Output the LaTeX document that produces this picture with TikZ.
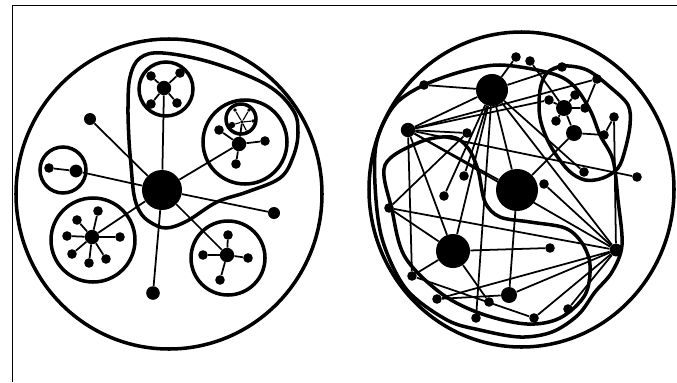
\documentclass[tikz,border=0pt]{standalone}
\usepackage{tikz}
\tikzset{
  bigdot/.style  ={circle,fill=black,inner sep=0pt,minimum size=10mm},
  hubdot/.style  ={circle,fill=black,inner sep=0pt,minimum size=3.6mm},
  leafdot/.style ={circle,fill=black,inner sep=0pt,minimum size=2.4mm},
  tinydot/.style ={circle,fill=black,inner sep=0pt,minimum size=0.9mm},
  rim/.style     ={line width=2.5pt},
  blob/.style    ={line width=2.5pt,line join=round},
  spoke/.style   ={line width=1.25pt},
}

\begin{document}
\begin{tikzpicture}[x=0.025cm,y=-0.025cm]
\useasboundingbox (0,0) rectangle (677,382);

% frame (top and left edge only)
\draw[line width=0.6pt] (12,382) -- (12,5) -- (677,5);

%% ---------------- left picture: tree of clusters ----------------
\draw[rim] (169,194) ellipse [x radius=153,y radius=155];
\draw[rim] (166,89) circle [radius=27];
\draw[rim] (245,142) circle [radius=42];
\draw[rim] (241,119) circle [radius=15];
\draw[rim] (63,170) circle [radius=23];
\draw[rim] (93,240) circle [radius=42];
\draw[rim] (228,258) circle [radius=37];

% enclosing blob
\draw[blob] plot[smooth cycle,tension=0.6] coordinates {
  (128,107) (130,77) (140,58) (163,53) (213,63) (267,85) (293,110)
  (298,133) (293,157) (280,178) (247,192) (217,202) (187,221)
  (166,228) (150,222) (140,212) (134,195) (131,165) (129,140)};

\node[bigdot] (c0) at (162,190) {};

% top cluster
\node[hubdot] (t0) at (164,88) {};
\foreach \p [count=\i] in {(151,76),(180,73),(151,104),(177,103)}
  \node[leafdot] (t\i) at \p {};
\foreach \i in {1,...,4} \draw[spoke] (t0) -- (t\i);

% upper right cluster with its small sub-cluster
\node[hubdot] (r0) at (239,144) {};
\foreach \p [count=\i] in {(219,130),(265,141),(236,164)}
  \node[leafdot] (r\i) at \p {};
\foreach \i in {1,...,3} \draw[spoke] (r0) -- (r\i);
\node[tinydot] (s0) at (242,122) {};
\foreach \p [count=\i] in {(235,110),(249,110),(253,121),(247,132)}
  \node[tinydot] (s\i) at \p {};
\node[circle,fill=black,inner sep=0pt,minimum size=1.6mm] (s5) at (232,125) {};
\foreach \i in {1,...,5} \draw[line width=0.8pt] (s0) -- (s\i);
\draw[spoke] (s0) -- (r0);

% lone nodes and pair
\node[leafdot,minimum size=3mm] (l1) at (90,119) {};
\node[leafdot,minimum size=3mm] (l2) at (274,213) {};
\node[leafdot,minimum size=3.4mm] (l3) at (153,293) {};
\node[leafdot] (p1) at (49,168) {};
\node[leafdot,minimum size=3.2mm] (p2) at (76,171) {};
\draw[spoke] (p1) -- (p2);

% lower left cluster
\node[hubdot] (b0) at (92,237) {};
\foreach \p [count=\i] in {(77,220),(98,211),(67,236),(120,237),(72,254),(89,263),(106,259)}
  \node[leafdot] (b\i) at \p {};
\foreach \i in {1,...,7} \draw[spoke] (b0) -- (b\i);

% lower right cluster
\node[hubdot] (d0) at (227,255) {};
\foreach \p [count=\i] in {(228,235),(203,255),(248,258),(220,280)}
  \node[leafdot] (d\i) at \p {};
\foreach \i in {1,...,4} \draw[spoke] (d0) -- (d\i);

\foreach \n in {t0,r0,l1,p2,b0,d0,l2,l3} \draw[spoke] (c0) -- (\n);

%% ---------------- right picture: dense network ----------------
\draw[rim] (521.5,189.5) ellipse [x radius=152.5,y radius=157.5];

% outer blob
\draw[blob] plot[smooth cycle,tension=0.55] coordinates {
  (376,145) (393,107) (420,87) (460,72) (500,65) (550,73) (573,85)
  (590,110) (600,135) (613,160) (618,200) (622,245) (612,272)
  (595,292) (578,315) (552,332) (520,337) (480,330) (447,320)
  (407,290) (384,245) (376,200)};
% lower blob
\draw[blob] plot[smooth cycle,tension=0.55] coordinates {
  (385,165) (420,142) (452,137) (468,148) (478,170) (485,202)
  (500,217) (530,222) (565,228) (582,243) (590,265) (585,295)
  (560,318) (527,324) (482,314) (442,294) (405,257) (392,210)};
% upper right blob
\draw[blob] plot[smooth cycle,tension=0.55] coordinates {
  (540,90) (547,73) (563,66) (587,70) (610,87) (628,105) (630,125)
  (625,150) (618,168) (603,178) (585,180) (568,170) (550,145) (540,118)};

\node[bigdot,minimum size=8mm] (ba) at (492,90) {};
\node[bigdot,minimum size=10.5mm] (bb) at (517,190) {};
\node[bigdot,minimum size=8.5mm] (bc) at (453,251) {};
\node[hubdot] (md) at (408,130) {};
\node[hubdot,minimum size=3.2mm] (me) at (616,250) {};
\node[hubdot,minimum size=4mm] (mf) at (509,295) {};
\node[hubdot,minimum size=4mm] (mg) at (564,108) {};
\node[hubdot,minimum size=4mm] (mh) at (574,133) {};
\foreach \p [count=\i] in {(516,57),(530,61),(562,67),(597,79),(424,85),
    (549,100),(575,95),(585,108),(556,121),(614,117),(604,135),(467,133),
    (584,172),(637,177),(464,176),(444,196),(544,184),(389,208),(550,248),
    (412,276),(437,299),(489,302),(476,318),(534,318),(568,309)}
  \node[leafdot] (n\i) at \p {};

\foreach \a/\b in {ba/n1,ba/n3,ba/n5,ba/md,ba/bc,ba/bb,ba/me,ba/n13,ba/n15,
    ba/n16,ba/n23,md/n4,md/n6,md/n12,md/n14,md/bc,md/bb,md/n20,md/me,
    bc/n18,bc/n20,bc/n19,bc/n22,bb/mh,bb/mf,me/n10,me/n17,me/n18,me/n21,
    me/n24,me/n25,me/mf,mg/n2,mg/n6,mg/n7,mg/n8,mg/n9,mg/mh,mh/n11,
    n11/n10,n4/n8,n12/n18,n21/mf,n20/n24}
  \draw[spoke] (\a) -- (\b);

\end{tikzpicture}
\end{document}
